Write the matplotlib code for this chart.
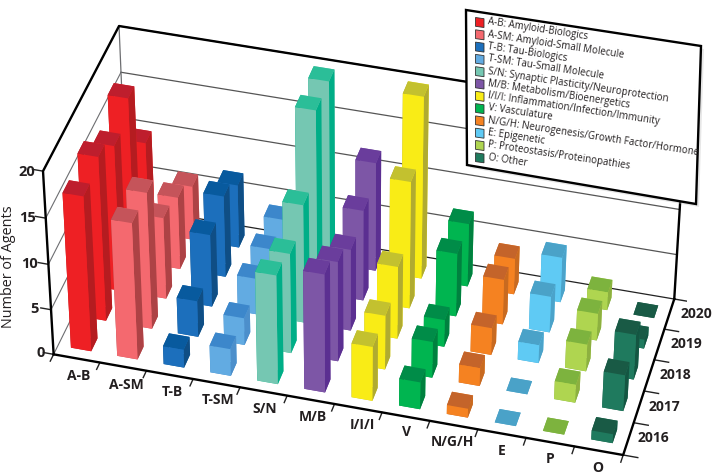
import matplotlib
matplotlib.use("Agg")
import matplotlib.pyplot as plt
from matplotlib.patches import Polygon

plt.rcParams["font.family"] = ["Open Sans", "DejaVu Sans"]

# data
categories = ["A-B", "A-SM", "T-B", "T-SM", "S/N", "M/B", "I/I/I", "V", "N/G/H", "E", "P", "O"]
years = [2016, 2017, 2018, 2019, 2020]
agents_2016 = [17, 15, 2, 3, 12, 13, 6, 3, 1, 0, 0, 1]
agents_2017 = [18, 15, 4, 3, 11, 11, 6, 4, 2, 0, 2, 4]
agents_2018 = [16, 9, 8, 4, 13, 9, 8, 3, 3, 2, 3, 5]
agents_2019 = [18, 8, 9, 4, 20, 10, 14, 7, 5, 4, 3, 1]
agents_2020 = [10, 6, 7, 4, 20, 12, 20, 7, 4, 5, 2, 0]
agents = [agents_2016, agents_2017, agents_2018, agents_2019, agents_2020]
z_ticks = [0, 5, 10, 15, 20]

legend_labels = ["A-B: Amyloid-Biologics", "A-SM: Amyloid-Small Molecule", "T-B: Tau-Biologics",
                 "T-SM: Tau-Small Molecule", "S/N: Synaptic Plasticity/Neuroprotection",
                 "M/B: Metabolism/Bioenergetics", "I/I/I: Inflammation/Infection/Immunity",
                 "V: Vasculature", "N/G/H: Neurogenesis/Growth Factor/Hormone", "E: Epigenetic",
                 "P: Proteostasis/Proteinopathies", "O: Other"]

# front, top, side colour of the bars
front_colors = ["#EE2024", "#F4696F", "#1C6FBC", "#62ABE2", "#75C7B2", "#7D56A6",
                "#F9EC16", "#00B550", "#F58221", "#5FCAF4", "#AFD550", "#1F7A5E"]
top_colors = ["#BE1E2D", "#C5545A", "#085A9E", "#3C87CB", "#2BBE98", "#6A3D9C",
              "#C3C12F", "#008C48", "#C4642A", "#4AA2C8", "#7DB33E", "#195A45"]
side_colors = ["#B51C20", "#AD4245", "#0F4E85", "#4C8FCB", "#00AE87", "#5B2F91",
               "#B0AB30", "#00813F", "#C86A20", "#4BA3CA", "#8DB040", "#145642"]

text_col = "#231F20"

fig = plt.figure(figsize=(7.2, 4.75), dpi=100)
box = 659.55
ax = fig.add_axes([(357.68 - box / 2) / 720, (229.40 - box / 2) / 475, box / 720, box / 475], projection="3d")
ax.set_xlim(0, 12, view_margin=0)
ax.set_ylim(0, 5, view_margin=0)
ax.set_zlim(0, 20, view_margin=0)
ax.view_init(39.05, -75.22, -0.13)
ax.set_proj_type("persp", focal_length=1.21)
ax.set_box_aspect((1, 0.421, 0.4003))
ax.set_axis_off()
ax.computed_zorder = False

# walls
for z in z_ticks:
    ax.plot([0, 0], [0, 5], [z, z], color="#6d6e71", lw=0.8, zorder=1)
    ax.plot([0, 12], [5, 5], [z, z], color="#555555" if z else "#222222", lw=0.9, zorder=1)
    ax.plot([0, -0.22], [0, 0], [z, z], color="#222222", lw=1, zorder=1)
ax.plot([0, 0], [5, 5], [0, 20], color="#6d6e71", lw=0.9, zorder=1)
ax.plot([0, 0, 0, 12, 12], [0, 0, 5, 5, 5], [0, 20, 20, 20, 0], color="black", lw=1.7, zorder=2)
ax.plot([0, 12, 12], [0, 0, 5], [0, 0, 0], color="black", lw=1.7, zorder=2)
for i in range(13):
    ax.plot([i, i], [0, -0.22], [0, 0], color="#222222", lw=1, zorder=1)
for j in range(6):
    ax.plot([12, 12.3], [j, j], [0, 0], color="#222222", lw=1, zorder=1)

# bars, back row first and left to right
width = 0.44
depth = 0.42
order = 10
for j in reversed(range(len(years))):
    for i in range(len(categories)):
        col = ax.bar3d(i + 0.5 - width / 2, j + 0.5 - depth / 2, 0, width, depth, agents[j][i],
                       color=[top_colors[i], top_colors[i], front_colors[i], front_colors[i],
                              side_colors[i], side_colors[i]], shade=False, linewidth=0.2)
        col.set_zorder(order)
        order += 1

# texts and legend in picture pixels
over = fig.add_axes([0, 0, 1, 1], zorder=5)
over.set_xlim(0, 720)
over.set_ylim(475, 0)
over.axis("off")

cat_x = [79, 126, 172, 218, 265, 313, 362, 407, 452, 502, 550, 598]
cat_y = [376, 385, 392, 400, 409, 417, 425, 432, 442, 451, 459, 468]
for name, x, y in zip(categories, cat_x, cat_y):
    over.text(x, y, name, fontsize=10, fontweight="bold", color=text_col, ha="center", va="center")

z_x = [46, 40, 39, 37, 36]
z_y = [353, 309, 264, 218, 172]
for z, x, y in zip(z_ticks, z_x, z_y):
    over.text(x - 1, y, str(z), fontsize=10.5, fontweight="bold", color=text_col, ha="right", va="center")

year_x = [653, 664, 675, 686, 696]
year_y = [438, 407, 375, 344, 314]
for yr, x, y in zip(years, year_x, year_y):
    over.text(x, y, str(yr), fontsize=10, fontweight="bold", color=text_col, ha="center", va="center")

over.text(9, 267, "Number of Agents", fontsize=10.4, color=text_col, rotation=90, ha="center", va="center")

leg_shape = [(466, 10), (701, 46), (696, 204), (467, 165)]
over.add_patch(Polygon([(x + 3, y + 3) for x, y in leg_shape], closed=True, fc="#bbbbbb", ec="none", alpha=0.35))
over.add_patch(Polygon(leg_shape, closed=True, fc="white", ec="black", lw=1.7))
for k, (lab, c) in enumerate(zip(legend_labels, front_colors)):
    x = 475.5
    y = 17.5 + k * 12.3
    over.add_patch(Polygon([(x, y), (x + 8.5, y + 1.2), (x + 8.5, y + 10), (x, y + 8.8)], closed=True,
                           fc=c, ec="#333333", lw=0.6))
    over.text(488, y + 4.4, lab, fontsize=7, color=text_col, rotation=-8.7, rotation_mode="anchor",
              ha="left", va="center")

fig.savefig("out.png", dpi=100)
